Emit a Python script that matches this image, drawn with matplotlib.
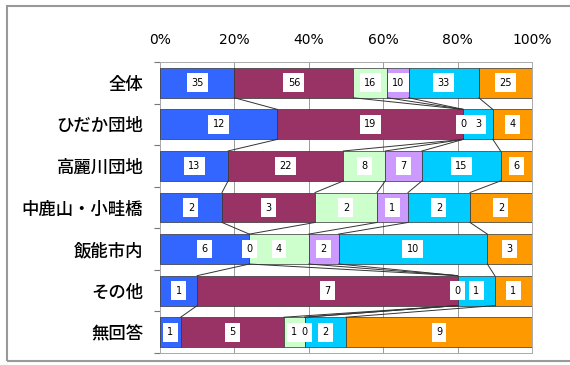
"""
plot.py
100% stacked horizontal bar chart with series lines, saved as out.png.
"""
import matplotlib.pyplot as plt
import numpy as np
from matplotlib.patches import Rectangle

plt.rcParams["font.family"] = ["Noto Sans CJK JP", "DejaVu Sans"]

categories = ["全体", "ひだか団地", "高麗川団地", "中鹿山・小畦橋", "飯能市内", "その他", "無回答"]

series_1 = [35, 12, 13, 2, 6, 1, 1]
series_2 = [56, 19, 22, 3, 0, 7, 5]
series_3 = [16, 0, 8, 2, 4, 0, 1]
series_4 = [10, 0, 7, 1, 2, 0, 0]
series_5 = [33, 3, 15, 2, 10, 1, 2]
series_6 = [25, 4, 6, 2, 3, 1, 9]

colors = ["#3366ff", "#993366", "#ccffcc", "#cc99ff", "#00ccff", "#ff9900"]

values = np.array([series_1, series_2, series_3, series_4, series_5, series_6], dtype=float)
shares = values / values.sum(axis=0) * 100

fig = plt.figure(figsize=(5.7, 3.65), dpi=100)
ax = fig.add_axes([0.2807, 0.033, 0.6526, 0.797])

y = np.arange(len(categories))
bar_height = 0.72
left = np.zeros(len(categories))

for i in range(len(values)):
    ax.barh(y, shares[i], left=left, height=bar_height, color=colors[i],
            edgecolor="#333333", linewidth=0.5, zorder=3)
    for k in range(len(categories)):
        ax.text(left[k] + shares[i][k] / 2, y[k], f"{int(values[i][k])}",
                ha="center", va="center", fontsize=7, family="DejaVu Sans",
                bbox=dict(boxstyle="square,pad=0.45", fc="white", ec="none"),
                zorder=5)
    left = left + shares[i]
    # series lines between neighbouring bars
    if i < len(values) - 1:
        for k in range(len(categories) - 1):
            ax.plot([left[k], left[k + 1]],
                    [y[k] + bar_height / 2, y[k + 1] - bar_height / 2],
                    color="#333333", linewidth=0.7, zorder=4)

ax.set_xlim(0, 100)
ax.set_ylim(len(categories) - 0.5, -0.5)
ax.set_xticks([0, 20, 40, 60, 80, 100])
ax.set_xticklabels(["0%", "20%", "40%", "60%", "80%", "100%"], fontsize=10,
                   family="DejaVu Sans")
ax.xaxis.tick_top()
ax.tick_params(axis="x", length=0, pad=11)
ax.set_yticks(y)
ax.set_yticklabels(categories, fontsize=12.5, fontweight="medium")
ax.set_yticks(np.arange(len(categories) + 1) - 0.5, minor=True)
ax.tick_params(axis="y", which="major", length=0, pad=12)
ax.tick_params(axis="y", which="minor", length=4, color="#777777", width=0.8)

ax.grid(axis="x", color="#999999", linewidth=0.7, zorder=0)
for side in ["top", "right", "bottom", "left"]:
    ax.spines[side].set_color("#aaaaaa")
    ax.spines[side].set_linewidth(0.7)

# outer chart border (open on the right)
fig.patches.append(Rectangle((0.012, 0.011), 1.0, 0.973, transform=fig.transFigure,
                             fill=False, edgecolor="#999999", linewidth=1.5))

plt.savefig("out.png")
plt.close()
